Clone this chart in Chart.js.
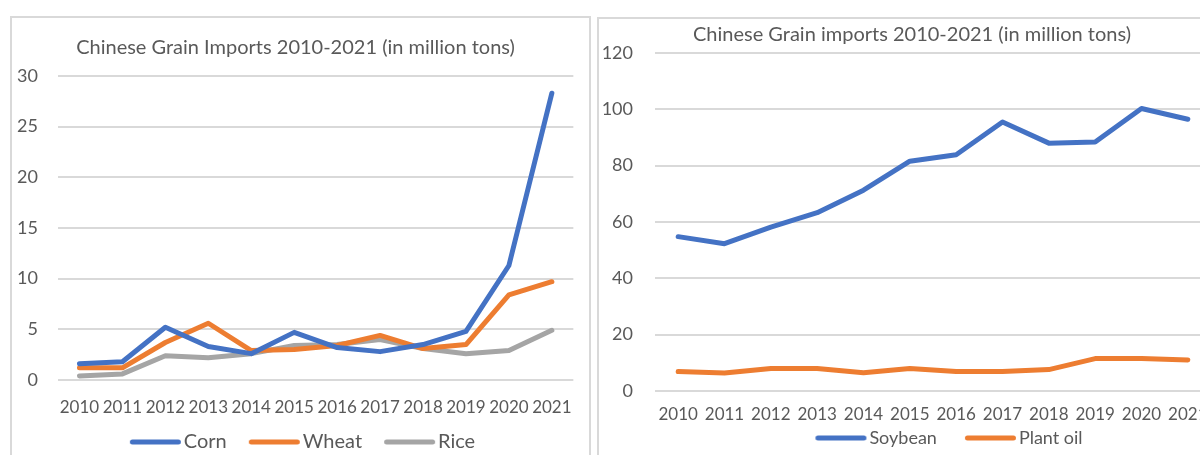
<!DOCTYPE html>
<html>
<head>
<meta charset="utf-8">
<script src="https://cdn.jsdelivr.net/npm/chart.js@4.4.1/dist/chart.umd.min.js"></script>
<style>
  html, body { margin: 0; padding: 0; background: #fff; overflow: hidden; width: 1200px; height: 455px; }
  .panel { position: absolute; border: 2px solid #d9d9d9; box-sizing: border-box; background: #fff; overflow: hidden; }
  #leftPanel { left: 10px; top: 16px; width: 581px; height: 470px; }
  #rightPanel { left: 597px; top: 17px; width: 630px; height: 470px; }
  .panel canvas { position: absolute; left: 0; top: 0; }
</style>
</head>
<body>
<div class="panel" id="leftPanel"><canvas id="grainChart" width="577" height="444"></canvas></div>
<div class="panel" id="rightPanel"><canvas id="oilChart" width="626" height="438"></canvas></div>
<script>
// years on the x axis
const years = ['2010', '2011', '2012', '2013', '2014', '2015', '2016', '2017', '2018', '2019', '2020', '2021'];

// left chart, million tons
const corn = [1.6, 1.8, 5.2, 3.3, 2.6, 4.7, 3.2, 2.8, 3.5, 4.8, 11.3, 28.3];
const wheat = [1.2, 1.2, 3.7, 5.6, 2.9, 3.0, 3.4, 4.4, 3.1, 3.5, 8.4, 9.7];
const rice = [0.4, 0.6, 2.4, 2.2, 2.6, 3.4, 3.5, 4.0, 3.1, 2.6, 2.9, 4.9];

// right chart, million tons
const soybean = [54.8, 52.3, 58.2, 63.3, 71.3, 81.6, 83.9, 95.5, 88.0, 88.4, 100.3, 96.5];
const plantOil = [6.9, 6.4, 8.0, 8.0, 6.5, 8.0, 6.9, 6.9, 7.6, 11.5, 11.5, 11.0];

const FONT = 'Lato, "Open Sans", sans-serif';
const TEXT = '#595959';

const lineSet = (label, data, color) => ({
  label,
  data,
  borderColor: color,
  backgroundColor: color,
  borderWidth: 5,
  borderCapStyle: 'round',
  borderJoinStyle: 'round',
  pointRadius: 0,
  tension: 0,
  fill: false
});

// legend swatch: a short thick line pushed to the right of the box so it sits close to the text
const swatch = (color, fontSize, box) => {
  const c = document.createElement('canvas');
  c.width = box + fontSize;
  c.height = 10;
  const g = c.getContext('2d');
  g.strokeStyle = color;
  g.lineWidth = 5;
  g.lineCap = 'round';
  g.beginPath();
  g.moveTo(c.width - 5.5 - 46, 5);
  g.lineTo(c.width - 5.5, 5);
  g.stroke();
  return c;
};

// moves the legend / title sideways (the original ones are not quite centred)
const blockShift = {
  id: 'blockShift',
  afterLayout(chart, args, opts) {
    if (opts.legendDx) {
      chart.legend.left += opts.legendDx;
      chart.legend.right += opts.legendDx;
    }
    if (opts.titleDx) {
      chart.titleBlock.left += opts.titleDx;
      chart.titleBlock.right += opts.titleDx;
    }
  }
};

const makeOptions = (cfg) => ({
  responsive: false,
  animation: false,
  layout: { padding: { left: 0, right: cfg.padRight, top: cfg.padTop, bottom: 0 } },
  plugins: {
    title: {
      display: true,
      text: cfg.title,
      color: TEXT,
      font: { family: FONT, size: 20, weight: 'normal' },
      padding: { top: 0, bottom: cfg.titleGap }
    },
    legend: {
      position: 'bottom',
      labels: {
        color: TEXT,
        font: { family: FONT, size: cfg.legendSize },
        usePointStyle: true,
        pointStyleWidth: cfg.box,
        padding: cfg.legendPad,
        generateLabels: (chart) => Chart.defaults.plugins.legend.labels.generateLabels(chart).map(item => {
          item.pointStyle = swatch(item.strokeStyle, cfg.legendSize, cfg.box);
          return item;
        })
      }
    },
    blockShift: { legendDx: cfg.legendDx, titleDx: cfg.titleDx },
    tooltip: { enabled: false }
  },
  scales: {
    x: {
      offset: true,
      grid: { display: false, drawTicks: false },
      border: { display: false },
      ticks: { color: TEXT, font: { family: FONT, size: 17 }, padding: cfg.xPad, maxRotation: 0, autoSkip: false },
      afterFit: (scale) => { scale.height = cfg.xHeight; }
    },
    y: {
      min: 0,
      max: cfg.max,
      grid: { color: '#d9d9d9', lineWidth: 2, drawTicks: false },
      border: { display: false },
      ticks: { stepSize: cfg.step, color: TEXT, font: { family: FONT, size: 18 }, padding: cfg.yPad },
      afterFit: (scale) => { scale.width = cfg.yWidth; }
    }
  }
});

new Chart(document.getElementById('grainChart'), {
  type: 'line',
  data: {
    labels: years,
    datasets: [
      lineSet('Corn', corn, '#4472c4'),
      lineSet('Wheat', wheat, '#ed7d31'),
      lineSet('Rice', rice, '#a5a5a5')
    ]
  },
  plugins: [blockShift],
  options: makeOptions({
    title: 'Chinese Grain Imports 2010-2021 (in million tons)',
    max: 30, step: 5, yWidth: 46, yPad: 20, padRight: 10, padTop: 18,
    titleGap: 16, xPad: 17, xHeight: 36, legendSize: 20, legendPad: 16, box: 50,
    legendDx: 4, titleDx: 0
  })
});

new Chart(document.getElementById('oilChart'), {
  type: 'line',
  data: {
    labels: years,
    datasets: [
      lineSet('Soybean', soybean, '#4472c4'),
      lineSet('Plant oil', plantOil, '#ed7d31')
    ]
  },
  plugins: [blockShift],
  options: makeOptions({
    title: 'Chinese Grain imports 2010-2021 (in million tons)',
    max: 120, step: 20, yWidth: 56, yPad: 22, padRight: 14, padTop: 4,
    titleGap: 6, xPad: 13, xHeight: 34, legendSize: 18, legendPad: 4, box: 69,
    legendDx: 32, titleDx: 7
  })
});
</script>
</body>
</html>
